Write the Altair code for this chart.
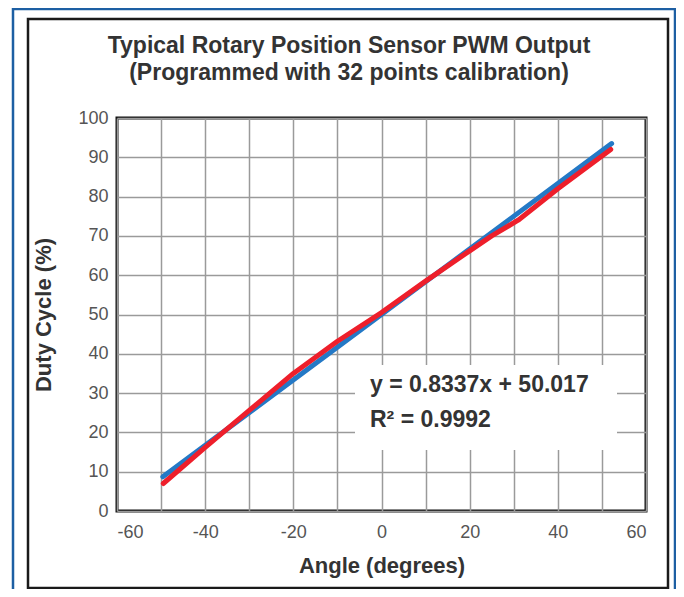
import altair as alt
import pandas as pd

# ---- data ----
angle = [-49.5, -40, -30, -20, -10, 0, 10, 20, 25, 31, 40, 52]
duty = [7.0, 16.2, 25.6, 35.0, 43.2, 50.5, 58.5, 66.2, 70.0, 74.0, 82.0, 92.0]
fit_angle = [-49.6, 52.2]
fit_duty = [8.7, 93.5]
x_ticks = list(range(-60, 61, 10))
y_ticks = list(range(0, 101, 10))
title_lines = ["Typical Rotary Position Sensor PWM Output",
               "(Programmed with 32 points calibration)"]
eq_lines = ["y = 0.8337x + 50.017", "R\u00b2 = 0.9992"]

data_df = pd.DataFrame({"angle": angle, "duty": duty})
fit_df = pd.DataFrame({"angle": fit_angle, "duty": fit_duty})
one = alt.Data(values=[{}])

W, H = 529, 393
FONT = "Liberation Sans, Arial, sans-serif"
TXT = "#333333"

xscale = alt.Scale(domain=[-60, 60], nice=False, zero=False)
yscale = alt.Scale(domain=[0, 100], nice=False)

xaxis = alt.Axis(values=x_ticks,
                 labelExpr="datum.value % 20 == 0 ? ((datum.value < 0 ? '-' : '') + abs(datum.value)) : ''",
                 labelOverlap=False,
                 title="Angle (degrees)", titleX=W / 2, titleY=54,
                 titleBaseline="middle", labelPadding=12)
yaxis = alt.Axis(values=y_ticks, labelOverlap=False, labelBound=False, labelFlush=False,
                 title="Duty Cycle (%)", titleX=-74,
                 titleY=H / 2, titleAngle=-90, titleBaseline="middle",
                 titleAlign="center", labelPadding=9)

blue_frame = alt.Chart(one).mark_rect(filled=False, stroke="#1d5fa3", strokeWidth=2.5).encode(
    x=alt.value(-104), x2=alt.value(558), y=alt.value(-109), y2=alt.value(490))
black_frame = alt.Chart(one).mark_rect(filled=False, stroke="#1a1a1a", strokeWidth=2.5).encode(
    x=alt.value(-89), x2=alt.value(551), y=alt.value(-99), y2=alt.value(470))

title1 = alt.Chart(one).mark_text(font=FONT, fontSize=23, fontWeight="bold", color=TXT,
                                  align="center", baseline="middle").encode(
    x=alt.value(232), y=alt.value(-72), text=alt.value(title_lines[0]))
title2 = alt.Chart(one).mark_text(font=FONT, fontSize=23, fontWeight="bold", color=TXT,
                                  align="center", baseline="middle").encode(
    x=alt.value(232), y=alt.value(-45), text=alt.value(title_lines[1]))

eq_box = alt.Chart(one).mark_rect(fill="white").encode(
    x=alt.value(238), x2=alt.value(500), y=alt.value(247), y2=alt.value(332))
eq1 = alt.Chart(one).mark_text(font=FONT, fontSize=23, fontWeight="bold", color=TXT,
                               align="left", baseline="middle").encode(
    x=alt.value(253), y=alt.value(267), text=alt.value(eq_lines[0]))
eq2 = alt.Chart(one).mark_text(font=FONT, fontSize=23, fontWeight="bold", color=TXT,
                               align="left", baseline="middle").encode(
    x=alt.value(253), y=alt.value(302), text=alt.value(eq_lines[1]))

fit_line = alt.Chart(fit_df).mark_line(color="#2479c6", strokeWidth=5, strokeCap="round").encode(
    x=alt.X("angle:Q", scale=xscale, axis=xaxis),
    y=alt.Y("duty:Q", scale=yscale, axis=yaxis))
data_line = alt.Chart(data_df).mark_line(color="#ee1f2b", strokeWidth=5, strokeCap="round",
                                         strokeJoin="round").encode(
    x=alt.X("angle:Q", scale=xscale, axis=xaxis),
    y=alt.Y("duty:Q", scale=yscale, axis=yaxis))

chart = alt.layer(fit_line, data_line, blue_frame, black_frame, eq_box, eq1, eq2,
                  title1, title2).properties(
    width=W, height=H,
    autosize=alt.AutoSizeParams(type="none"),
    padding={"left": 109, "top": 110, "right": 30, "bottom": 78},
    background="white",
).configure_view(stroke="#111111", strokeWidth=3).configure_axis(
    grid=True, gridColor="#9a9a9a", gridWidth=1.5, domain=False, ticks=False,
    labelOverlap=False,
    labelFont=FONT, labelFontSize=18, labelColor="#555555",
    titleFont=FONT, titleFontSize=22, titleFontWeight="bold", titleColor=TXT,
)

chart.save("out.html", embed_options={"renderer": "svg", "actions": False})
